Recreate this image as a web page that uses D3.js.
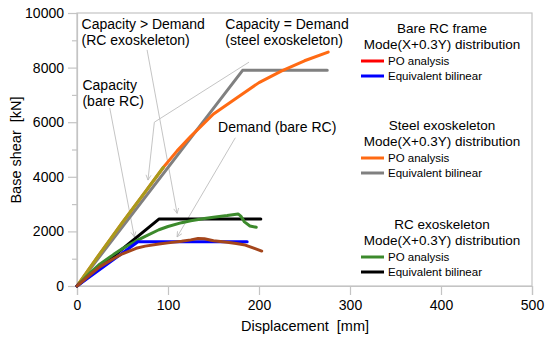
<!DOCTYPE html>
<html lang="en">
<head>
<meta charset="UTF-8">
<title>Pushover curves</title>
<style>
  body { margin: 0; background: #fff; }
  text { font-family: "Liberation Sans", Arial, sans-serif; }
</style>
</head>
<body>
<svg id="svg" width="550" height="341"></svg>
<script src="https://d3js.org/d3.v7.min.js"></script>
<script>
  // curves: [displacement mm, base shear kN]
  const bareRcPO = [[0,0],[15,430],[25,700],[40,1000],[50,1180],[65,1380],[75,1460],[90,1540],[100,1580],[115,1640],[125,1690],[133,1740],[140,1730],[150,1660],[165,1600],[175,1560],[185,1500],[195,1380],[203,1280]]
  const bareRcBilinear = [[0,0],[67,1620],[187,1620]]
  const steelPO = [[0,0],[25,1180],[50,2330],[75,3450],[95,4350],[110,4950],[125,5480],[150,6300],[175,6880],[200,7450],[225,7880],[250,8250],[276,8570]]
  const steelBilinear = [[0,0],[182,7900],[275,7900]]
  const rcExoPO = [[0,0],[15,500],[25,800],[40,1150],[50,1370],[65,1650],[75,1820],[90,2060],[100,2180],[115,2320],[125,2390],[140,2470],[150,2520],[165,2580],[177,2640],[180,2560],[184,2350],[190,2200],[197,2150]]
  const rcExoBilinear = [[0,0],[90,2450],[202,2450]]

  const xTicks = [0, 100, 200, 300, 400, 500]
  const yTicks = [0, 2000, 4000, 6000, 8000, 10000]
  const yMinor = [1000, 3000, 5000, 7000, 9000]

  const legendGroups = [
    { title: ['Bare RC frame', 'Mode(X+0.3Y) distribution'], items: [['PO analysis', '#ff0000'], ['Equivalent bilinear', '#0000ff']], top: 33 },
    { title: ['Steel exoskeleton', 'Mode(X+0.3Y) distribution'], items: [['PO analysis', '#ff6a13'], ['Equivalent bilinear', '#808080']], top: 130 },
    { title: ['RC exoskeleton', 'Mode(X+0.3Y) distribution'], items: [['PO analysis', '#3c8a2c'], ['Equivalent bilinear', '#000000']], top: 229 }
  ]

  // annotation labels (data coords for text anchor) and leader lines
  const notes = [
    { lines: ['Capacity > Demand', '(RC exoskeleton)'], at: [5, 9400] },
    { lines: ['Capacity = Demand', '(steel exoskeleton)'], at: [163, 9400] },
    { lines: ['Capacity', '(bare RC)'], at: [6, 7170] },
    { lines: ['Demand (bare RC)'], at: [155, 5640] }
  ]
  const leaders = [
    [[77, 8650], [110, 2660]],
    [[189, 8200], [85, 6000], [78, 3880]],
    [[36, 6520], [63, 1800]],
    [[174, 5430], [110, 1800]]
  ]

  const svg = d3.select('#svg')
  const x = d3.scaleLinear().domain([0, 500]).range([77, 532])
  const y = d3.scaleLinear().domain([0, 10000]).range([286, 13])
  const axisColor = '#c4c4c4'

  // frame
  svg.append('rect')
    .attr('x', x(0)).attr('y', y(10000))
    .attr('width', x(500) - x(0)).attr('height', y(0) - y(10000))
    .attr('fill', 'none').attr('stroke', axisColor).attr('stroke-width', 1.2)

  const xAxis = svg.append('g').attr('transform', `translate(0,${y(0)})`)
    .call(d3.axisBottom(x).tickValues(xTicks).tickSize(9).tickPadding(5).tickFormat(d3.format('d')))
  const yAxis = svg.append('g').attr('transform', `translate(${x(0)},0)`)
    .call(d3.axisLeft(y).tickValues(yTicks).tickSize(9).tickPadding(4).tickFormat(d3.format('d')))
  svg.append('g').attr('transform', `translate(${x(0)},0)`)
    .call(d3.axisLeft(y).tickValues(yMinor).tickSize(5).tickFormat(''))
    .call(g => g.select('.domain').remove())
    .selectAll('line').attr('stroke', axisColor).attr('stroke-width', 1.2)
  ;[xAxis, yAxis].forEach(g => {
    g.select('.domain').attr('stroke', axisColor).attr('stroke-width', 1.2)
    g.selectAll('.tick line').attr('stroke', axisColor).attr('stroke-width', 1.2)
    g.selectAll('.tick text').attr('fill', '#000').style('font-size', '14px')
      .style('font-family', '"Liberation Sans", Arial, sans-serif')
  })

  svg.append('text').attr('x', 305).attr('y', 331).attr('text-anchor', 'middle')
    .style('font-size', '14.5px').attr('xml:space', 'preserve').text('Displacement  [mm]')
  svg.append('text').attr('transform', 'translate(21,150) rotate(-90)').attr('text-anchor', 'middle')
    .style('font-size', '14.5px').attr('xml:space', 'preserve').text('Base shear  [kN]')

  // leader lines
  svg.append('defs').append('marker')
    .attr('id', 'arr').attr('viewBox', '0 0 10 10').attr('refX', 9).attr('refY', 5)
    .attr('markerWidth', 7).attr('markerHeight', 7).attr('orient', 'auto')
    .append('path').attr('d', 'M1,1 L9,5 L1,9').attr('fill', 'none').attr('stroke', '#b8b8b8').attr('stroke-width', 1.2)
  const line = d3.line().x(d => x(d[0])).y(d => y(d[1]))
  svg.selectAll('.leader').data(leaders).enter().append('path')
    .attr('d', line).attr('fill', 'none').attr('stroke', '#bdbdbd').attr('stroke-width', 0.9)
    .attr('marker-end', 'url(#arr)')

  // curves
  const curves = [
    [steelBilinear, '#808080'],
    [steelPO, '#ff6a13'],
    [steelPO.filter(d => d[0] <= 95), '#a89b1c'],
    [rcExoBilinear, '#000000'],
    [rcExoPO, '#3c8a2c'],
    [bareRcBilinear, '#0000ff'],
    [bareRcPO, '#a4461c']
  ]
  svg.selectAll('.curve').data(curves).enter().append('path')
    .attr('d', d => line(d[0])).attr('fill', 'none').attr('stroke', d => d[1])
    .attr('stroke-width', 3).attr('stroke-linejoin', 'round').attr('stroke-linecap', 'round')

  // notes
  notes.forEach(n => {
    const t = svg.append('text').style('font-size', '14px')
    n.lines.forEach((s, i) => t.append('tspan').attr('x', x(n.at[0])).attr('y', y(n.at[1]) + i * 16).text(s))
  })

  // legend
  legendGroups.forEach(g => {
    g.title.forEach((s, i) => svg.append('text').attr('x', 442).attr('y', g.top + i * 16)
      .attr('text-anchor', 'middle').style('font-size', '13.5px').text(s))
    g.items.forEach((it, i) => {
      const cy = g.top + 28 + i * 15
      svg.append('line').attr('x1', 361).attr('x2', 384).attr('y1', cy).attr('y2', cy)
        .attr('stroke', it[1]).attr('stroke-width', 3)
      svg.append('text').attr('x', 388).attr('y', cy + 4).style('font-size', '11.5px').text(it[0])
    })
  })
</script>
</body>
</html>
